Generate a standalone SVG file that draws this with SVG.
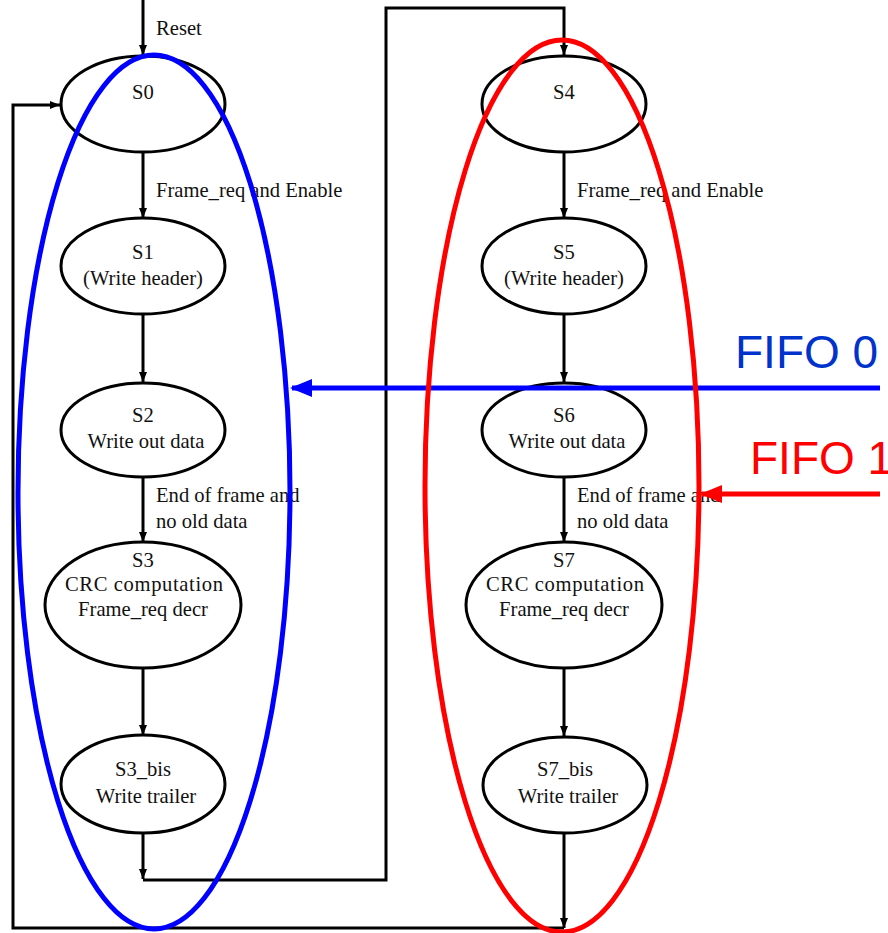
<svg xmlns="http://www.w3.org/2000/svg" width="888" height="933" viewBox="0 0 888 933">
<style>
.st{fill:#fff;stroke:#000;stroke-width:3}
.ln{fill:none;stroke:#000;stroke-width:3}
.t{font-family:"Liberation Serif","Times New Roman",serif;font-size:20.6px;fill:#111}
.c{text-anchor:middle}
.big{font-family:"Liberation Sans",Arial,sans-serif;font-size:46px}
</style>
<defs>
<marker id="ah" markerWidth="10" markerHeight="10" viewBox="0 0 10 10" refX="10" refY="5" orient="auto" markerUnits="userSpaceOnUse">
<path d="M0,1 L10,5 L0,9 Z" fill="#000"/>
</marker>
<marker id="bh" markerWidth="22" markerHeight="18" viewBox="0 0 22 18" refX="20" refY="9" orient="auto" markerUnits="userSpaceOnUse">
<path d="M0,0 L22,9 L0,18 Z" fill="#0000ff"/>
</marker>
<marker id="rh" markerWidth="22" markerHeight="18" viewBox="0 0 22 18" refX="20" refY="9" orient="auto" markerUnits="userSpaceOnUse">
<path d="M0,0 L22,9 L0,18 Z" fill="#ff0000"/>
</marker>
</defs>

<g id="connectors">
<path class="ln" d="M143,0 V55" marker-end="url(#ah)"/>
<path class="ln" d="M143,151 V218" marker-end="url(#ah)"/>
<path class="ln" d="M143,314 V382" marker-end="url(#ah)"/>
<path class="ln" d="M143,477 V542" marker-end="url(#ah)"/>
<path class="ln" d="M143,668 V735" marker-end="url(#ah)"/>
<path class="ln" d="M143,833 V879" marker-end="url(#ah)"/>
<path class="ln" d="M143,880 H386 V8 H564 V55" marker-end="url(#ah)"/>
<path class="ln" d="M564,151 V218" marker-end="url(#ah)"/>
<path class="ln" d="M564,314 V382" marker-end="url(#ah)"/>
<path class="ln" d="M564,477 V542" marker-end="url(#ah)"/>
<path class="ln" d="M564,668 V736" marker-end="url(#ah)"/>
<path class="ln" d="M564,833 V928" marker-end="url(#ah)"/>
<path class="ln" d="M564,928 H13 V105 H60" marker-end="url(#ah)"/>
<text class="t" x="156" y="35">Reset</text>
<text class="t" x="156" y="197">Frame_req and Enable</text>
<text class="t" x="156" y="502">End of frame and</text>
<text class="t" x="156" y="528">no old data</text>
<text class="t" x="577" y="197">Frame_req and Enable</text>
<text class="t" x="577" y="502">End of frame and</text>
<text class="t" x="577" y="528">no old data</text>
</g>

<g id="S0"><ellipse class="st" cx="143" cy="104" rx="82" ry="48"/><text class="t c" x="143" y="99">S0</text></g>
<g id="S1"><ellipse class="st" cx="143" cy="266" rx="82" ry="48"/><text class="t c" x="143" y="259">S1</text><text class="t c" x="143" y="285">(Write header)</text></g>
<g id="S2"><ellipse class="st" cx="143" cy="430" rx="82" ry="47"/><text class="t c" x="143" y="422">S2</text><text class="t c" x="146" y="448">Write out data</text></g>
<g id="S3"><ellipse class="st" cx="143" cy="605" rx="98" ry="63"/><text class="t c" x="143" y="567">S3</text><text class="t c" x="144" y="591" textLength="158">CRC computation</text><text class="t c" x="143" y="616">Frame_req decr</text></g>
<g id="S3_bis"><ellipse class="st" cx="143" cy="784" rx="82" ry="49"/><text class="t c" x="143" y="776">S3_bis</text><text class="t c" x="146" y="803">Write trailer</text></g>

<g id="S4"><ellipse class="st" cx="564" cy="104" rx="82" ry="48"/><text class="t c" x="564" y="99">S4</text></g>
<g id="S5"><ellipse class="st" cx="564" cy="266" rx="82" ry="48"/><text class="t c" x="564" y="259">S5</text><text class="t c" x="564" y="285">(Write header)</text></g>
<g id="S6"><ellipse class="st" cx="564" cy="430" rx="82" ry="47"/><text class="t c" x="564" y="422">S6</text><text class="t c" x="567" y="448">Write out data</text></g>
<g id="S7"><ellipse class="st" cx="564" cy="605" rx="98" ry="63"/><text class="t c" x="564" y="567">S7</text><text class="t c" x="565" y="591" textLength="158">CRC computation</text><text class="t c" x="564" y="616">Frame_req decr</text></g>
<g id="S7_bis"><ellipse class="st" cx="565" cy="785" rx="82" ry="48"/><text class="t c" x="565" y="776">S7_bis</text><text class="t c" x="568" y="803">Write trailer</text></g>

<g id="fifo0">
<ellipse cx="154" cy="492" rx="136" ry="437" fill="none" stroke="#0000ff" stroke-width="5"/>
<path d="M880,388 H292" stroke="#0000ff" stroke-width="5" fill="none" marker-end="url(#bh)"/>
<text class="big" x="735" y="368" fill="#0033cc">FIFO 0</text>
</g>
<g id="fifo1">
<ellipse cx="562" cy="486" rx="137" ry="446" fill="none" stroke="#ff0000" stroke-width="5"/>
<path d="M880,494 H702" stroke="#ff0000" stroke-width="5" fill="none" marker-end="url(#rh)"/>
<text class="big" x="750" y="474" fill="#ff0000">FIFO 1</text>
</g>
</svg>
